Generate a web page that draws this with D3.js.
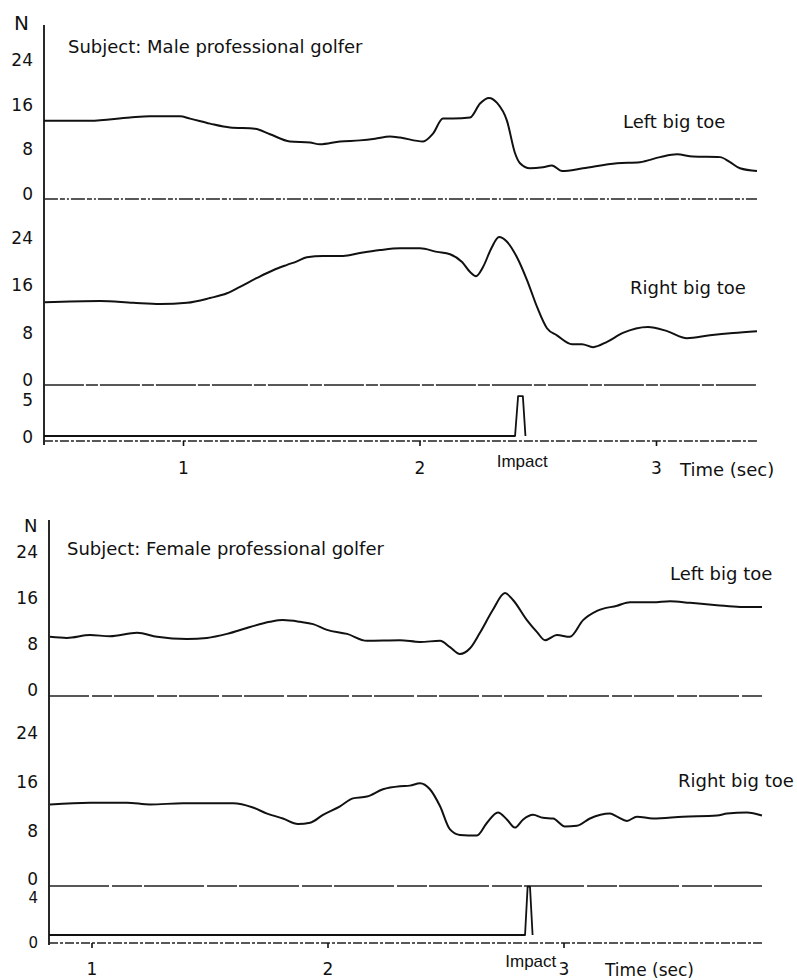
<!DOCTYPE html>
<html>
<head>
<meta charset="utf-8">
<script src="https://cdn.jsdelivr.net/npm/d3@7/dist/d3.min.js"></script>
<style>
    body { margin: 0; background: #fff; }
    svg { display: block; }
    text { font-family: 'DejaVu Sans', sans-serif; fill: #111; }
</style>
</head>
<body>
<svg id="chart" width="797" height="980"></svg>
<script>

// ---- Male professional golfer (time in sec, force in N)
var maleLeftT = [0.412, 0.607, 0.776, 0.860, 0.987, 1.030, 1.114, 1.199, 1.304, 1.368, 1.452, 1.537,
    1.579, 1.664, 1.748, 1.812, 1.875, 1.918, 2.015, 2.057, 2.099, 2.142, 2.214, 2.256, 2.294, 2.328,
    2.370, 2.404, 2.425, 2.467, 2.522, 2.560, 2.603, 2.691, 2.835, 2.932, 3.017, 3.089, 3.156, 3.271,
    3.313, 3.355, 3.427];
var maleLeftN = [14.0, 14.0, 14.6, 14.8, 14.8, 14.4, 13.5, 12.8, 12.6, 11.6, 10.3, 10.1,
    9.8, 10.3, 10.5, 10.8, 11.2, 11.0, 10.3, 11.7, 14.4, 14.4, 14.6, 17.1, 18.1, 17.2,
    14.0, 8.2, 6.4, 5.5, 5.7, 6.0, 5.0, 5.5, 6.4, 6.6, 7.5, 8.0, 7.6, 7.5,
    6.6, 5.5, 5.0];

var maleRightT = [0.416, 0.649, 0.789, 0.903, 1.017, 1.114, 1.186, 1.241, 1.313, 1.381, 1.440, 1.482,
    1.524, 1.592, 1.677, 1.748, 1.833, 1.918, 2.002, 2.074, 2.129, 2.180, 2.214, 2.239, 2.268, 2.306,
    2.336, 2.370, 2.412, 2.455, 2.497, 2.539, 2.581, 2.645, 2.687, 2.734, 2.793, 2.860, 2.966, 3.047,
    3.131, 3.228, 3.326, 3.427];
var maleRightN = [14.0, 14.2, 13.9, 13.7, 13.9, 14.7, 15.5, 16.6, 18.1, 19.4, 20.3, 20.9,
    21.6, 21.8, 21.8, 22.3, 22.8, 23.1, 23.1, 22.5, 22.1, 20.8, 19.1, 18.4, 19.9, 23.3,
    25.0, 24.2, 21.6, 17.7, 13.2, 9.6, 8.4, 6.9, 6.9, 6.4, 7.3, 8.8, 9.8, 9.1,
    7.9, 8.4, 8.8, 9.1];

var maleImpactT = [0.412, 2.404, 2.417, 2.437, 2.448];
var maleImpactN = [0, 0, 5.4, 5.4, 0];

// ---- Female professional golfer
var femaleLeftT = [0.824, 0.896, 0.994, 1.078, 1.193, 1.278, 1.405, 1.489, 1.574, 1.672, 1.756, 1.811,
    1.884, 1.939, 1.998, 2.083, 2.167, 2.307, 2.392, 2.477, 2.519, 2.561, 2.604, 2.646, 2.701, 2.752,
    2.786, 2.845, 2.888, 2.922, 2.972, 3.027, 3.083, 3.142, 3.227, 3.282, 3.379, 3.451, 3.536, 3.650,
    3.748, 3.841];
var femaleLeftN = [10.3, 10.1, 10.6, 10.4, 11.0, 10.3, 9.9, 10.1, 10.8, 12.0, 12.9, 13.2,
    12.9, 12.5, 11.5, 10.8, 9.6, 9.7, 9.4, 9.6, 8.5, 7.3, 8.3, 11.0, 15.0, 17.9,
    16.7, 13.2, 11.1, 9.7, 10.6, 10.3, 13.2, 14.8, 15.7, 16.3, 16.3, 16.5, 16.2, 15.8,
    15.5, 15.5];

var femaleRightT = [0.824, 0.994, 1.150, 1.248, 1.388, 1.600, 1.684, 1.744, 1.811, 1.875, 1.926, 1.981,
    2.053, 2.108, 2.167, 2.235, 2.307, 2.349, 2.392, 2.434, 2.477, 2.519, 2.561, 2.633, 2.676, 2.722,
    2.761, 2.794, 2.828, 2.871, 2.913, 2.956, 3.006, 3.057, 3.112, 3.197, 3.227, 3.269, 3.311, 3.379,
    3.506, 3.650, 3.693, 3.777, 3.841];
var femaleRightN = [13.4, 13.7, 13.7, 13.4, 13.6, 13.6, 12.9, 11.9, 11.1, 10.2, 10.4, 11.7,
    13.1, 14.4, 14.7, 15.9, 16.4, 16.5, 16.9, 15.9, 13.1, 9.3, 8.4, 8.3, 10.4, 12.1,
    10.9, 9.6, 10.9, 11.7, 11.2, 11.1, 9.8, 9.9, 11.1, 11.9, 11.4, 10.7, 11.4, 11.1,
    11.4, 11.6, 11.9, 12.1, 11.6];

var femaleImpactT = [0.820, 2.837, 2.848, 2.858, 2.869];
var femaleImpactN = [0, 0, 4.3, 4.3, 0];

var toeTicks = [0, 8, 16, 24],
    timeTicks = [1, 2, 3];


var svg = d3.select('#chart');

svg.append('rect')
    .attr('width', 797)
    .attr('height', 980)
    .attr('fill', '#fff');


function figure (f) {

    var x = d3.scaleLinear().domain([1, 3]).range(f.xRange);

    var g = svg.append('g');

    // vertical force axis
    g.append('line')
        .attr('x1', f.axisX).attr('x2', f.axisX)
        .attr('y1', f.axisTop).attr('y2', f.axisBottom)
        .attr('stroke', '#111')
        .attr('stroke-width', 1.8);

    g.append('text')
        .attr('x', f.nPos[0])
        .attr('y', f.nPos[1])
        .style('font-size', f.nSize + 'px')
        .text('N');

    g.append('text')
        .attr('x', f.titlePos[0])
        .attr('y', f.titlePos[1])
        .style('font-size', '18px')
        .text(f.title);

    f.panels.forEach(function (p) {

        var y = d3.scaleLinear().domain(p.domain).range(p.range);

        var ax = g.append('g')
            .attr('transform', 'translate(' + f.axisX + ',' + p.labelShift + ')')
            .call(d3.axisLeft(y).tickValues(p.ticks).tickSize(0).tickPadding(11).tickFormat(d3.format('d')));
        ax.select('.domain').remove();
        ax.selectAll('text')
            .style('font-size', (p.tickSize || 17) + 'px')
            .style('font-family', "'DejaVu Sans', sans-serif")
            .attr('fill', '#111');

        // zero line
        if (p.baseline) {
            g.append('line')
                .attr('x1', x(f.span[0])).attr('x2', x(f.span[1]))
                .attr('y1', y(0)).attr('y2', y(0))
                .attr('stroke', '#222')
                .attr('stroke-width', 1.6)
                .attr('stroke-dasharray', p.dash);
        }

        var line = d3.line()
            .curve(p.curve)
            .x(function (d) { return x(d[0]); })
            .y(function (d) { return y(d[1]); });

        g.append('path')
            .datum(d3.zip(p.t, p.v))
            .attr('d', line)
            .attr('fill', 'none')
            .attr('stroke', '#111')
            .attr('stroke-width', p.width)
            .attr('stroke-linejoin', 'round');

        if (p.label) {
            g.append('text')
                .attr('x', p.labelPos[0])
                .attr('y', p.labelPos[1])
                .style('font-size', '18px')
                .text(p.label);
        }
    });

    // time axis
    g.append('line')
        .attr('x1', x(f.span[0])).attr('x2', x(f.span[1]))
        .attr('y1', f.timeY).attr('y2', f.timeY)
        .attr('stroke', '#222')
        .attr('stroke-width', 1.5)
        .attr('stroke-dasharray', '9,2,3,2');

    var xa = g.append('g')
        .attr('transform', 'translate(0,' + f.timeY + ')')
        .call(d3.axisBottom(x).tickValues(timeTicks).tickSize(5).tickPadding(f.tickPad).tickFormat(d3.format('d')));
    xa.select('.domain').remove();
    xa.selectAll('line').attr('stroke', '#111').attr('stroke-width', 1.6);
    xa.selectAll('text')
        .style('font-size', '17px')
        .style('font-family', "'DejaVu Sans', sans-serif")
        .attr('fill', '#111');

    g.append('text')
        .attr('x', x(f.impactT) + 2)
        .attr('y', f.impactY)
        .attr('text-anchor', 'middle')
        .style('font-family', "'Liberation Sans', sans-serif")
        .style('font-size', '17px')
        .text('Impact');

    g.append('text')
        .attr('x', f.timePos[0])
        .attr('y', f.timePos[1])
        .style('font-size', f.timeSize + 'px')
        .text('Time (sec)');
}


figure({
    title: 'Subject: Male professional golfer',
    titlePos: [68, 53],
    nPos: [14, 30],
    nSize: 20,
    xRange: [183, 656],
    span: [0.412, 3.427],
    axisX: 44,
    axisTop: 25,
    axisBottom: 445,
    timeY: 441,
    tickPad: 16,
    impactT: 2.426,
    impactY: 467,
    timePos: [680, 476],
    timeSize: 18,
    panels: [
        { t: maleLeftT, v: maleLeftN, domain: [0, 24], range: [199, 65], ticks: toeTicks,
          labelShift: -5, baseline: true, dash: '14,2,5,2,2,2', curve: d3.curveMonotoneX, width: 2,
          label: 'Left big toe', labelPos: [623, 128] },
        { t: maleRightT, v: maleRightN, domain: [0, 24], range: [385, 243], ticks: toeTicks,
          labelShift: -5, baseline: true, dash: '40,2,12,2', curve: d3.curveMonotoneX, width: 2,
          label: 'Right big toe', labelPos: [630, 294] },
        { t: maleImpactT, v: maleImpactN, domain: [0, 5], range: [436, 399], ticks: [0, 5],
          labelShift: 1, baseline: false, curve: d3.curveLinear, width: 1.8 }
    ]
});

figure({
    title: 'Subject: Female professional golfer',
    titlePos: [67, 555],
    nPos: [24, 532],
    nSize: 18,
    xRange: [91.5, 563.5],
    span: [0.820, 3.841],
    axisX: 49,
    axisTop: 520,
    axisBottom: 945,
    timeY: 943,
    tickPad: 15,
    impactT: 2.853,
    impactY: 967,
    timePos: [605, 976],
    timeSize: 17,
    panels: [
        { t: femaleLeftT, v: femaleLeftN, domain: [0, 24], range: [696, 558], ticks: toeTicks,
          labelShift: -6, baseline: true, dash: '40,3,20,2', curve: d3.curveMonotoneX, width: 2,
          label: 'Left big toe', labelPos: [670, 580] },
        { t: femaleRightT, v: femaleRightN, domain: [0, 24], range: [886, 740], ticks: toeTicks,
          labelShift: -6.5, baseline: true, dash: '60,3,30,2', curve: d3.curveMonotoneX, width: 2,
          label: 'Right big toe', labelPos: [678, 787] },
        { t: femaleImpactT, v: femaleImpactN, domain: [0, 4], range: [935, 890], ticks: [0, 4],
          labelShift: 7.5, tickSize: 15, baseline: false, curve: d3.curveLinear, width: 1.8 }
    ]
});

</script>
</body>
</html>
